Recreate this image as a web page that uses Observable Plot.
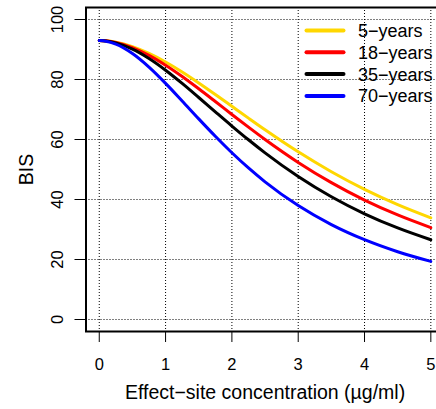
<!DOCTYPE html>
<html>
<head>
<meta charset="utf-8">
<script src="https://cdn.jsdelivr.net/npm/d3@7"></script>
<script src="https://cdn.jsdelivr.net/npm/@observablehq/plot@0.6"></script>
<style>
  html, body { margin: 0; padding: 0; background: #fff; }
  #wrap { position: relative; width: 436px; height: 409px; overflow: hidden; }
  #wrap svg { font-family: "Liberation Sans", Arial, sans-serif; }
  #legend { position: absolute; left: 0; top: 0; }
</style>
</head>
<body>
<div id="wrap"></div>
<script>
// Effect-site concentration (µg/ml)
const conc  = [0, 0.1, 0.25, 0.5, 0.75, 1, 1.25, 1.5, 1.75, 2, 2.25, 2.5, 3, 3.5, 4, 4.5, 5];
// BIS values
const bis5  = [93, 92.90, 92.44, 90.96, 88.71, 85.85, 82.53, 78.87, 75.02, 71.07, 67.13, 63.25, 55.89, 49.25, 43.39, 38.30, 33.90];
const bis18 = [93, 92.88, 92.35, 90.62, 88.03, 84.75, 80.99, 76.90, 72.65, 68.35, 64.12, 60.01, 52.37, 45.62, 39.80, 34.84, 30.62];
const bis35 = [93, 92.86, 92.20, 90.10, 86.98, 83.09, 78.69, 74.00, 69.22, 64.49, 59.91, 55.55, 47.66, 40.91, 35.24, 30.52, 26.58];
const bis70 = [93, 92.78, 91.79, 88.66, 84.13, 78.71, 72.84, 66.87, 61.07, 55.59, 50.52, 45.90, 37.99, 31.65, 26.61, 22.59, 19.36];

const seriesNames = ["5\u2212years", "18\u2212years", "35\u2212years", "70\u2212years"];
const seriesColors = ["#FFD700", "#FF0000", "#000000", "#0000FF"];
const seriesValues = [bis5, bis18, bis35, bis70];

const xTicks = [0, 1, 2, 3, 4, 5];
const yTicks = [0, 20, 40, 60, 80, 100];

const rows = [];
seriesValues.forEach((vals, si) => {
  vals.forEach((v, i) => rows.push({series: seriesNames[si], c: conc[i], bis: v}));
});

const lineMarks = seriesNames.map((name, si) =>
  Plot.line(rows.filter(r => r.series === name), {
    x: "c", y: "bis", stroke: seriesColors[si], strokeWidth: 3, curve: "monotone-x"
  })
);

const plot = Plot.plot({
  width: 436,
  height: 409,
  marginLeft: 85.5,
  marginRight: -7.6,
  marginTop: 7,
  marginBottom: 78,
  style: {fontFamily: '"Liberation Sans", Arial, sans-serif', fontSize: "16px", background: "#fff"},
  x: {domain: [-0.2, 5.2], range: [85.5, 443.6], ticks: xTicks},
  y: {domain: [-4, 104], range: [331, 7], ticks: yTicks},
  marks: [
    Plot.ruleX(xTicks, {stroke: "#000", strokeWidth: 1, strokeDasharray: "1,2"}),
    Plot.ruleY(yTicks, {stroke: "#000", strokeWidth: 1, strokeDasharray: "1,2"}),
    ...lineMarks,
    Plot.frame({stroke: "#000", strokeWidth: 2}),
    Plot.axisX(xTicks, {
      tickSize: 11, tickPadding: 16, tickWidth: 2, stroke: "#000", color: "#000",
      fontSize: 16.5, label: null, anchor: "bottom", tickFormat: d => String(d)
    }),
    Plot.axisY(yTicks, {
      tickSize: 11, tickPadding: 12, tickWidth: 2, stroke: "#000", color: "#000",
      anchor: "left", label: null, tickRotate: -90, fontSize: 16.5, tickFormat: d => String(d)
    }),
    Plot.text(["BIS"], {
      frameAnchor: "left", dx: -53, rotate: -90, fill: "#000", fontSize: 19.5,
      textAnchor: "middle", lineAnchor: "bottom"
    }),
    Plot.text(["Effect\u2212site concentration (\u00b5g/ml)"], {
      frameAnchor: "bottom", dy: 67, fill: "#000", fontSize: 19.5,
      textAnchor: "middle", lineAnchor: "bottom"
    })
  ]
});

const wrap = document.getElementById("wrap");
wrap.appendChild(plot);

// Legend (no box), drawn as an overlay
const leg = d3.select(wrap).append("svg")
  .attr("id", "legend")
  .attr("width", 436).attr("height", 409)
  .style("font-family", '"Liberation Sans", Arial, sans-serif');
const lx0 = 306.5, lx1 = 343.5, ltx = 358, ly0 = 30.5, ldy = 21.8;
seriesNames.forEach((name, i) => {
  const y = ly0 + i * ldy;
  leg.append("line").attr("x1", lx0).attr("x2", lx1).attr("y1", y).attr("y2", y)
    .attr("stroke", seriesColors[i]).attr("stroke-width", 4).attr("stroke-linecap", "round");
  leg.append("text").attr("x", ltx).attr("y", y).attr("dy", "0.36em")
    .attr("font-size", 18).attr("fill", "#000").text(name);
});
</script>
</body>
</html>
